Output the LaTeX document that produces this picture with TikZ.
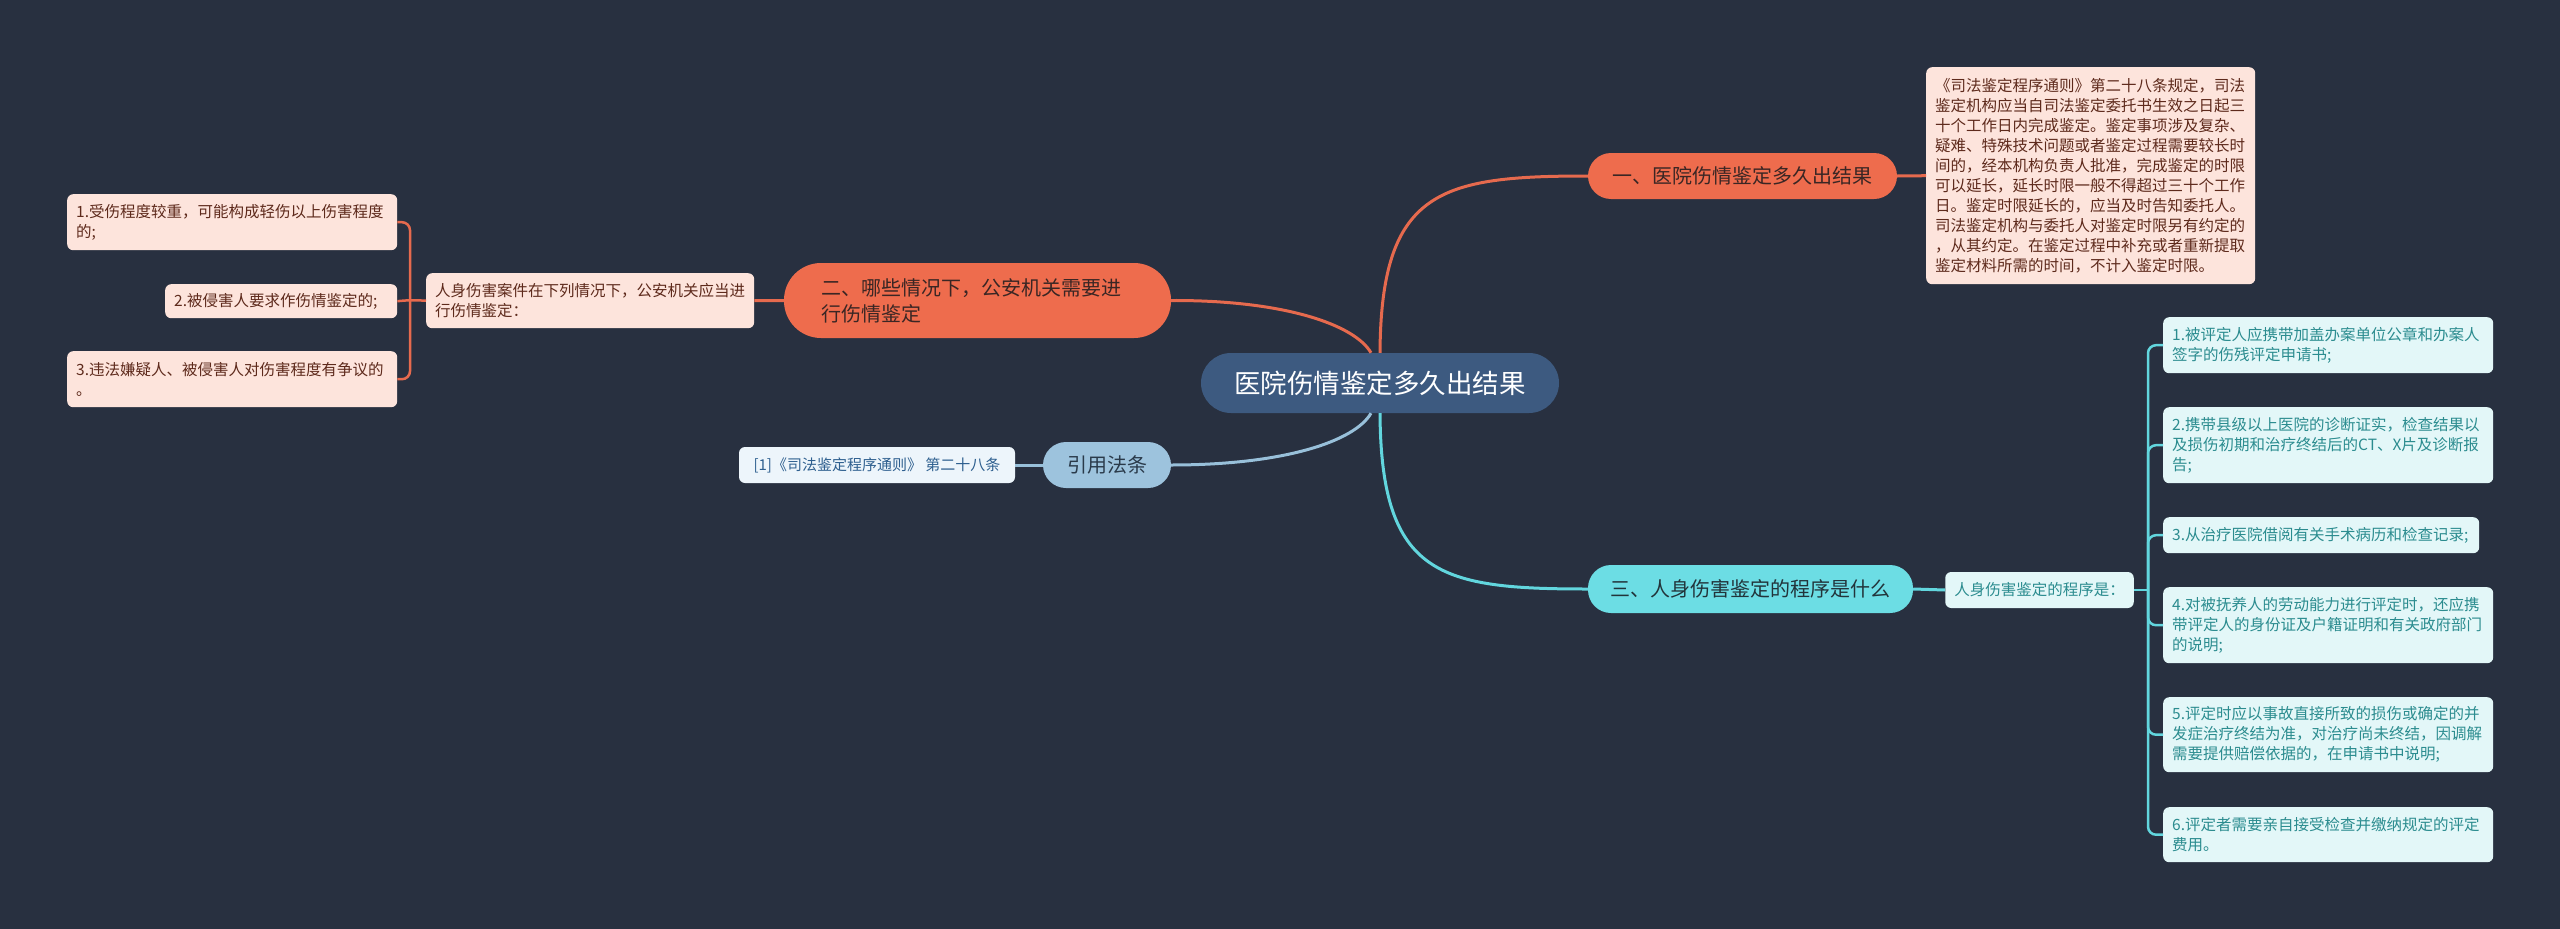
\documentclass[tikz,border=0pt]{standalone}
\usepackage{fontspec}
\newfontfamily\cjk{Noto Sans CJK SC}
\usetikzlibrary{calc}
\definecolor{bg}{HTML}{283040}
\definecolor{orng}{HTML}{EE6C4D}
\definecolor{orngline}{HTML}{E66A4E}
\definecolor{pinkfill}{HTML}{FDE4DC}
\definecolor{pinktext}{HTML}{5E2A1C}
\definecolor{cyanfill}{HTML}{6CDDE4}
\definecolor{cyanline}{HTML}{62D6DE}
\definecolor{lcyanfill}{HTML}{E3F7F8}
\definecolor{tealtext}{HTML}{2B8C8F}
\definecolor{bluefill}{HTML}{9DC3DD}
\definecolor{blueline}{HTML}{98C0DA}
\definecolor{lbluefill}{HTML}{EDF5FB}
\definecolor{bluetext}{HTML}{2E5F8F}
\definecolor{centerfill}{HTML}{3D5A80}
\definecolor{darktext}{HTML}{3A2624}
\definecolor{cyantext}{HTML}{22343A}
\definecolor{bluedark}{HTML}{2A3A4A}
\begin{document}
\begin{tikzpicture}[x=1pt,y=-1pt,
  nbox/.style={draw=none, rounded corners=6pt, inner xsep=9pt, inner ysep=0pt, align=left,
    font=\cjk\fontsize{15.5}{20}\selectfont},
  pinkbx/.style={nbox, fill=pinkfill, text=pinktext},
  tealbx/.style={nbox, fill=lcyanfill, text=tealtext},
  bluebx/.style={nbox, fill=lbluefill, text=bluetext, font=\cjk\fontsize{15}{20}\selectfont},
  branchnode/.style={inner sep=0pt, rounded corners=23pt, minimum height=46pt,
    font=\cjk\fontsize{20}{26}\selectfont},
  obranch/.style={branchnode, fill=orng, text=darktext},
  cbranch/.style={branchnode, fill=cyanfill, text=cyantext},
  bbranch/.style={branchnode, fill=bluefill, text=bluedark},
  centerbx/.style={inner sep=0pt, rounded corners=30pt, fill=centerfill, text=white,
    font=\cjk\fontsize{26.5}{32}\selectfont},
  oline/.style={draw=orngline, line width=3pt},
  cline/.style={draw=cyanline, line width=3pt},
  bline/.style={draw=blueline, line width=3pt},
  obrk/.style={draw=orngline, line width=2.5pt, rounded corners=8pt},
  cbrk/.style={draw=cyanline, line width=2.5pt, rounded corners=8pt}
]
\useasboundingbox (0,0) rectangle (2560,929);
\fill[bg] (0,0) rectangle (2560,929);

% central
\node[centerbx, minimum width=358pt, minimum height=60pt] (c) at (1380,383) {医院伤情鉴定多久出结果};

% branch 1
\node[obranch, minimum width=309pt] (b1) at (1742.5,176) {一、医院伤情鉴定多久出结果};
\node[pinkbx, anchor=north west, text width=311pt, minimum height=217pt] (t1) at (1926,67) {《司法鉴定程序通则》第二十八条规定，司法\\鉴定机构应当自司法鉴定委托书生效之日起三\\十个工作日内完成鉴定。鉴定事项涉及复杂、\\疑难、特殊技术问题或者鉴定过程需要较长时\\间的，经本机构负责人批准，完成鉴定的时限\\可以延长，延长时限一般不得超过三十个工作\\日。鉴定时限延长的，应当及时告知委托人。\\司法鉴定机构与委托人对鉴定时限另有约定的\\，从其约定。在鉴定过程中补充或者重新提取\\鉴定材料所需的时间，不计入鉴定时限。};

% branch 2
\node[obranch, rounded corners=37pt, minimum width=387pt, minimum height=75pt, inner xsep=37pt, text width=313pt, align=left] (b2) at (977.5,300.5) {二、哪些情况下，公安机关需要进\\行伤情鉴定};
\node[pinkbx, anchor=north west, text width=310pt, minimum height=55pt] (p2) at (426,273) {人身伤害案件在下列情况下，公安机关应当进\\行伤情鉴定：};
\node[pinkbx, anchor=north west, text width=312pt, minimum height=56pt] (i1) at (67,194) {1.受伤程度较重，可能构成轻伤以上伤害程度\\的;};
\node[pinkbx, anchor=north west, text width=214pt, minimum height=34pt] (i2) at (165,284) {2.被侵害人要求作伤情鉴定的;};
\node[pinkbx, anchor=north west, text width=312pt, minimum height=56pt] (i3) at (67,351) {3.违法嫌疑人、被侵害人对伤害程度有争议的\\。};

% citation
\node[bbranch, minimum width=128pt] (b4) at (1107,465) {引用法条};
\node[bluebx, minimum width=276pt, minimum height=36pt, align=center] (cit) at (877,465) {[1]《司法鉴定程序通则》 第二十八条};

% branch 3
\node[cbranch, minimum width=325pt, minimum height=48pt] (b3) at (1750.5,589) {三、人身伤害鉴定的程序是什么};
\node[tealbx, minimum width=187pt, minimum height=36pt, align=center] (q) at (2039.5,590) {人身伤害鉴定的程序是：};
\node[tealbx, anchor=north west, text width=312pt, minimum height=56pt] (r1) at (2163,317) {1.被评定人应携带加盖办案单位公章和办案人\\签字的伤残评定申请书;};
\node[tealbx, anchor=north west, text width=312pt, minimum height=76pt] (r2) at (2163,407) {2.携带县级以上医院的诊断证实，检查结果以\\及损伤初期和治疗终结后的CT、X片及诊断报\\告;};
\node[tealbx, anchor=north west, text width=298pt, minimum height=36pt] (r3) at (2163,517) {3.从治疗医院借阅有关手术病历和检查记录;};
\node[tealbx, anchor=north west, text width=312pt, minimum height=76pt] (r4) at (2163,587) {4.对被抚养人的劳动能力进行评定时，还应携\\带评定人的身份证及户籍证明和有关政府部门\\的说明;};
\node[tealbx, anchor=north west, text width=312pt, minimum height=75pt] (r5) at (2163,697) {5.评定时应以事故直接所致的损伤或确定的并\\发症治疗终结为准，对治疗尚未终结，因调解\\需要提供赔偿依据的，在申请书中说明;};
\node[tealbx, anchor=north west, text width=312pt, minimum height=55pt] (r6) at (2163,807) {6.评定者需要亲自接受检查并缴纳规定的评定\\费用。};

% main curves
\draw[oline] (c.north) .. controls (1381,190) and (1440,176) .. (b1.west);
\draw[oline] ($(c.north)+(-9,0)$) .. controls (1355,325) and (1285,300) .. (b2.east);
\draw[bline] ($(c.south)+(-9,0)$) .. controls (1355,441) and (1285,465) .. (b4.east);
\draw[cline] (c.south) .. controls (1381,576) and (1440,589) .. (b3.west);

% short links
\draw[oline] (b1.east) -- (t1.west);
\draw[oline] (b2.west) -- (p2.east);
\draw[bline] (b4.west) -- (cit.east);
\draw[cline] (b3.east) -- (q.west);

% left bracket
\coordinate (lb) at (410,300);
\draw[obrk] (i1.east) -| (lb);
\draw[obrk] (i3.east) -| (lb);
\draw[obrk] (i2.east) -- (lb) -- (p2.west);

% right bracket
\coordinate (rb) at (2148,590);
\draw[cbrk] (q.east) -- (rb);
\foreach \k in {1,...,6} {\draw[cbrk] (r\k.west) -| (rb);}
\end{tikzpicture}
\end{document}
